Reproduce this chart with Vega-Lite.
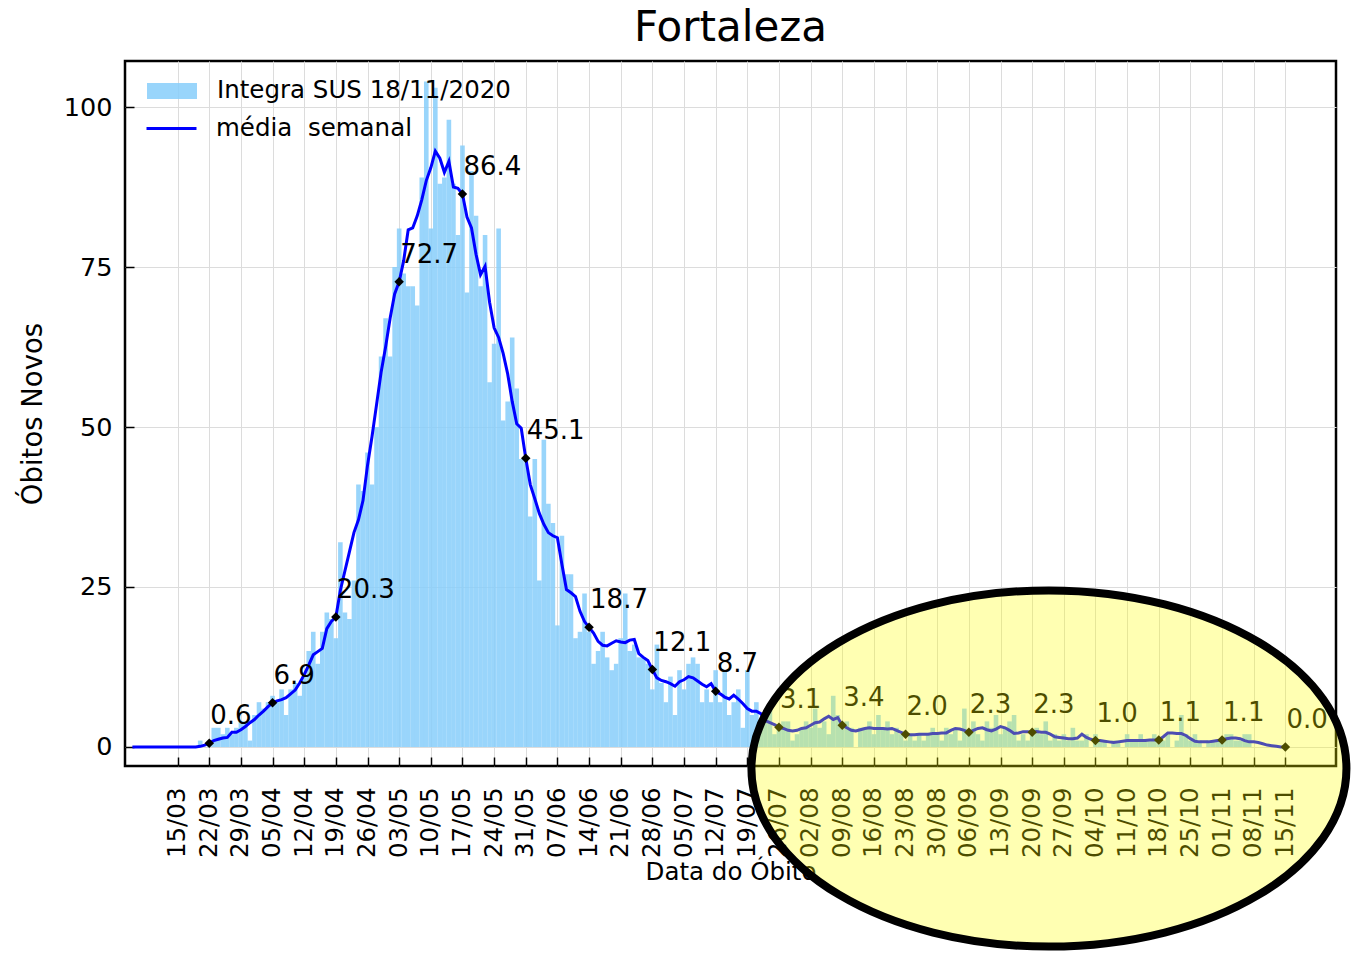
{
"$schema": "https://vega.github.io/schema/vega-lite/v6.json",
"width": 1211,
"height": 705,
"autosize": {"type": "none"},
"padding": {"left": 125, "top": 61, "right": 18, "bottom": 188},
"background": "white",
"config": {
  "font": "DejaVu Sans",
  "view": {"stroke": "black", "strokeWidth": 2.5},
  "axis": {"labelFont": "DejaVu Sans", "titleFont": "DejaVu Sans", "labelColor": "black", "titleColor": "black", "titleFontWeight": "normal", "labelFontSize": 24.5, "titleFontSize": 24.5, "domain": false, "tickColor": "black", "tickWidth": 1.5, "tickSize": -9, "gridColor": "#dcdcdc", "gridWidth": 1},
  "legend": {"layout": {"top-left": {"direction": "vertical", "margin": 6}}}
},
"title": {"text": "Fortaleza", "fontSize": 42, "fontWeight": "normal", "font": "DejaVu Sans", "color": "black", "baseline": "bottom", "offset": -31},
"datasets": {
"diario": [
{"data":"2020-03-05","obitos":0,"media":0},{"data":"2020-03-06","obitos":0,"media":0},{"data":"2020-03-07","obitos":0,"media":0},{"data":"2020-03-08","obitos":0,"media":0},{"data":"2020-03-09","obitos":0,"media":0},{"data":"2020-03-10","obitos":0,"media":0},{"data":"2020-03-11","obitos":0,"media":0},{"data":"2020-03-12","obitos":0,"media":0},{"data":"2020-03-13","obitos":0,"media":0},{"data":"2020-03-14","obitos":0,"media":0},{"data":"2020-03-15","obitos":0,"media":0},{"data":"2020-03-16","obitos":0,"media":0},{"data":"2020-03-17","obitos":0,"media":0},{"data":"2020-03-18","obitos":0,"media":0},{"data":"2020-03-19","obitos":0,"media":0},
{"data":"2020-03-20","obitos":1,"media":0.1},{"data":"2020-03-21","obitos":0,"media":0.3},{"data":"2020-03-22","obitos":1,"media":0.6},{"data":"2020-03-23","obitos":3,"media":1.0},{"data":"2020-03-24","obitos":3,"media":1.2},{"data":"2020-03-25","obitos":2,"media":1.4},{"data":"2020-03-26","obitos":3,"media":1.5},{"data":"2020-03-27","obitos":2,"media":2.3},{"data":"2020-03-28","obitos":3,"media":2.3},{"data":"2020-03-29","obitos":4,"media":2.7},{"data":"2020-03-30","obitos":4,"media":3.2},{"data":"2020-03-31","obitos":1,"media":3.8},
{"data":"2020-04-01","obitos":5,"media":4.3},{"data":"2020-04-02","obitos":7,"media":5.0},{"data":"2020-04-03","obitos":6,"media":5.6},{"data":"2020-04-04","obitos":7,"media":6.3},{"data":"2020-04-05","obitos":8,"media":6.9},{"data":"2020-04-06","obitos":7,"media":7.2},{"data":"2020-04-07","obitos":9,"media":7.4},{"data":"2020-04-08","obitos":5,"media":7.7},{"data":"2020-04-09","obitos":9,"media":8.3},{"data":"2020-04-10","obitos":10,"media":8.9},{"data":"2020-04-11","obitos":8,"media":10.0},{"data":"2020-04-12","obitos":11,"media":11.3},{"data":"2020-04-13","obitos":15,"media":12.8},{"data":"2020-04-14","obitos":18,"media":14.4},{"data":"2020-04-15","obitos":13,"media":14.9},{"data":"2020-04-16","obitos":18,"media":15.4},{"data":"2020-04-17","obitos":21,"media":18.5},{"data":"2020-04-18","obitos":20,"media":19.6},{"data":"2020-04-19","obitos":17,"media":20.3},{"data":"2020-04-20","obitos":32,"media":24.5},{"data":"2020-04-21","obitos":21,"media":27.5},{"data":"2020-04-22","obitos":20,"media":30.5},{"data":"2020-04-23","obitos":26,"media":33.5},{"data":"2020-04-24","obitos":41,"media":35.5},{"data":"2020-04-25","obitos":40,"media":38.5},{"data":"2020-04-26","obitos":46,"media":44.0},{"data":"2020-04-27","obitos":41,"media":48.5},{"data":"2020-04-28","obitos":50,"media":53.5},{"data":"2020-04-29","obitos":61,"media":58.5},{"data":"2020-04-30","obitos":67,"media":62.5},
{"data":"2020-05-01","obitos":61,"media":67.0},{"data":"2020-05-02","obitos":75,"media":70.8},{"data":"2020-05-03","obitos":81,"media":72.7},{"data":"2020-05-04","obitos":74,"media":76.0},{"data":"2020-05-05","obitos":72,"media":80.8},{"data":"2020-05-06","obitos":72,"media":81.1},{"data":"2020-05-07","obitos":69,"media":83.0},{"data":"2020-05-08","obitos":89,"media":85.5},{"data":"2020-05-09","obitos":104,"media":88.5},{"data":"2020-05-10","obitos":81,"media":90.5},{"data":"2020-05-11","obitos":103,"media":93.1},{"data":"2020-05-12","obitos":88,"media":92.0},{"data":"2020-05-13","obitos":89,"media":89.8},{"data":"2020-05-14","obitos":98,"media":91.5},{"data":"2020-05-15","obitos":88,"media":87.5},{"data":"2020-05-16","obitos":80,"media":87.3},{"data":"2020-05-17","obitos":94,"media":86.4},{"data":"2020-05-18","obitos":71,"media":82.8},{"data":"2020-05-19","obitos":90,"media":81.1},{"data":"2020-05-20","obitos":83,"media":77.0},{"data":"2020-05-21","obitos":72,"media":73.8},{"data":"2020-05-22","obitos":80,"media":75.1},{"data":"2020-05-23","obitos":57,"media":69.5},{"data":"2020-05-24","obitos":63,"media":65.5},{"data":"2020-05-25","obitos":81,"media":64.0},{"data":"2020-05-26","obitos":51,"media":61.5},{"data":"2020-05-27","obitos":54,"media":58.3},{"data":"2020-05-28","obitos":64,"media":54.0},{"data":"2020-05-29","obitos":56,"media":50.5},{"data":"2020-05-30","obitos":45,"media":49.8},{"data":"2020-05-31","obitos":45,"media":45.1},
{"data":"2020-06-01","obitos":36,"media":41.0},{"data":"2020-06-02","obitos":45,"media":38.8},{"data":"2020-06-03","obitos":26,"media":36.5},{"data":"2020-06-04","obitos":48,"media":34.8},{"data":"2020-06-05","obitos":38,"media":33.5},{"data":"2020-06-06","obitos":35,"media":33.0},{"data":"2020-06-07","obitos":19,"media":32.7},{"data":"2020-06-08","obitos":33,"media":28.5},{"data":"2020-06-09","obitos":27,"media":24.6},{"data":"2020-06-10","obitos":27,"media":24.1},{"data":"2020-06-11","obitos":17,"media":23.5},{"data":"2020-06-12","obitos":18,"media":21.2},{"data":"2020-06-13","obitos":24,"media":19.6},{"data":"2020-06-14","obitos":18,"media":18.7},{"data":"2020-06-15","obitos":13,"media":17.8},{"data":"2020-06-16","obitos":15,"media":16.5},{"data":"2020-06-17","obitos":18,"media":15.9},{"data":"2020-06-18","obitos":14,"media":15.8},{"data":"2020-06-19","obitos":12,"media":16.2},{"data":"2020-06-20","obitos":13,"media":16.6},{"data":"2020-06-21","obitos":17,"media":16.4},{"data":"2020-06-22","obitos":24,"media":16.3},{"data":"2020-06-23","obitos":15,"media":16.7},{"data":"2020-06-24","obitos":16,"media":16.8},{"data":"2020-06-25","obitos":14,"media":14.6},{"data":"2020-06-26","obitos":14,"media":14.0},{"data":"2020-06-27","obitos":13,"media":13.5},{"data":"2020-06-28","obitos":9,"media":12.1},{"data":"2020-06-29","obitos":16,"media":10.8},{"data":"2020-06-30","obitos":10,"media":10.4},
{"data":"2020-07-01","obitos":7,"media":10.2},{"data":"2020-07-02","obitos":11,"media":9.9},{"data":"2020-07-03","obitos":5,"media":9.5},{"data":"2020-07-04","obitos":12,"media":10.2},{"data":"2020-07-05","obitos":9,"media":10.5},{"data":"2020-07-06","obitos":13,"media":11.0},{"data":"2020-07-07","obitos":14,"media":10.8},{"data":"2020-07-08","obitos":13,"media":10.3},{"data":"2020-07-09","obitos":7,"media":9.8},{"data":"2020-07-10","obitos":9,"media":9.4},{"data":"2020-07-11","obitos":7,"media":9.9},{"data":"2020-07-12","obitos":12,"media":8.7},{"data":"2020-07-13","obitos":7,"media":8.3},{"data":"2020-07-14","obitos":12,"media":7.8},{"data":"2020-07-15","obitos":5,"media":7.5},{"data":"2020-07-16","obitos":7,"media":8.1},{"data":"2020-07-17","obitos":9,"media":7.5},{"data":"2020-07-18","obitos":3,"media":6.8},{"data":"2020-07-19","obitos":12,"media":6.0},{"data":"2020-07-20","obitos":5,"media":5.6},{"data":"2020-07-21","obitos":7,"media":5.6},{"data":"2020-07-22","obitos":4,"media":5.2},{"data":"2020-07-23","obitos":5,"media":4.1},{"data":"2020-07-24","obitos":6,"media":3.8},{"data":"2020-07-25","obitos":2,"media":3.5},{"data":"2020-07-26","obitos":3,"media":3.1},{"data":"2020-07-27","obitos":4,"media":2.9},{"data":"2020-07-28","obitos":4,"media":2.6},{"data":"2020-07-29","obitos":1,"media":2.5},{"data":"2020-07-30","obitos":2,"media":2.6},{"data":"2020-07-31","obitos":3,"media":2.9},
{"data":"2020-08-01","obitos":4,"media":3.0},{"data":"2020-08-02","obitos":3,"media":3.4},{"data":"2020-08-03","obitos":6,"media":3.8},{"data":"2020-08-04","obitos":3,"media":3.9},{"data":"2020-08-05","obitos":4,"media":4.4},{"data":"2020-08-06","obitos":2,"media":4.8},{"data":"2020-08-07","obitos":8,"media":4.3},{"data":"2020-08-08","obitos":5,"media":4.6},{"data":"2020-08-09","obitos":3,"media":3.4},{"data":"2020-08-10","obitos":4,"media":3.0},{"data":"2020-08-11","obitos":3,"media":2.6},{"data":"2020-08-12","obitos":0,"media":2.5},{"data":"2020-08-13","obitos":3,"media":2.7},{"data":"2020-08-14","obitos":3,"media":2.9},{"data":"2020-08-15","obitos":4,"media":3.0},{"data":"2020-08-16","obitos":2,"media":2.9},{"data":"2020-08-17","obitos":5,"media":2.9},{"data":"2020-08-18","obitos":3,"media":2.9},{"data":"2020-08-19","obitos":4,"media":2.8},{"data":"2020-08-20","obitos":2,"media":2.9},{"data":"2020-08-21","obitos":3,"media":2.6},{"data":"2020-08-22","obitos":2,"media":2.3},{"data":"2020-08-23","obitos":1,"media":2.0},{"data":"2020-08-24","obitos":2,"media":1.9},{"data":"2020-08-25","obitos":1,"media":1.9},{"data":"2020-08-26","obitos":2,"media":2.0},{"data":"2020-08-27","obitos":1,"media":2.0},{"data":"2020-08-28","obitos":2,"media":2.0},{"data":"2020-08-29","obitos":3,"media":2.1},{"data":"2020-08-30","obitos":2,"media":2.1},{"data":"2020-08-31","obitos":1,"media":2.2},
{"data":"2020-09-01","obitos":3,"media":2.2},{"data":"2020-09-02","obitos":2,"media":2.6},{"data":"2020-09-03","obitos":3,"media":2.9},{"data":"2020-09-04","obitos":1,"media":2.8},{"data":"2020-09-05","obitos":6,"media":2.6},{"data":"2020-09-06","obitos":2,"media":2.3},{"data":"2020-09-07","obitos":4,"media":2.6},{"data":"2020-09-08","obitos":2,"media":2.9},{"data":"2020-09-09","obitos":1,"media":3.0},{"data":"2020-09-10","obitos":4,"media":2.7},{"data":"2020-09-11","obitos":3,"media":2.5},{"data":"2020-09-12","obitos":5,"media":2.8},{"data":"2020-09-13","obitos":2,"media":3.2},{"data":"2020-09-14","obitos":3,"media":3.0},{"data":"2020-09-15","obitos":4,"media":2.6},{"data":"2020-09-16","obitos":5,"media":2.1},{"data":"2020-09-17","obitos":1,"media":2.2},{"data":"2020-09-18","obitos":2,"media":2.4},{"data":"2020-09-19","obitos":1,"media":2.4},{"data":"2020-09-20","obitos":2,"media":2.3},{"data":"2020-09-21","obitos":3,"media":2.4},{"data":"2020-09-22","obitos":2,"media":2.3},{"data":"2020-09-23","obitos":4,"media":2.3},{"data":"2020-09-24","obitos":1,"media":2.0},{"data":"2020-09-25","obitos":2,"media":1.6},{"data":"2020-09-26","obitos":1,"media":1.5},{"data":"2020-09-27","obitos":2,"media":1.4},{"data":"2020-09-28","obitos":1,"media":1.3},{"data":"2020-09-29","obitos":3,"media":1.3},{"data":"2020-09-30","obitos":1,"media":1.4},
{"data":"2020-10-01","obitos":1,"media":2.0},{"data":"2020-10-02","obitos":2,"media":1.5},{"data":"2020-10-03","obitos":0,"media":1.2},{"data":"2020-10-04","obitos":2,"media":1.0},{"data":"2020-10-05","obitos":1,"media":1.0},{"data":"2020-10-06","obitos":1,"media":0.9},{"data":"2020-10-07","obitos":0,"media":0.8},{"data":"2020-10-08","obitos":1,"media":0.7},{"data":"2020-10-09","obitos":1,"media":0.8},{"data":"2020-10-10","obitos":0,"media":0.9},{"data":"2020-10-11","obitos":2,"media":1.0},{"data":"2020-10-12","obitos":1,"media":1.0},{"data":"2020-10-13","obitos":1,"media":1.0},{"data":"2020-10-14","obitos":2,"media":1.0},{"data":"2020-10-15","obitos":1,"media":1.0},{"data":"2020-10-16","obitos":1,"media":1.1},{"data":"2020-10-17","obitos":2,"media":1.1},{"data":"2020-10-18","obitos":1,"media":1.1},{"data":"2020-10-19","obitos":1,"media":1.6},{"data":"2020-10-20","obitos":2,"media":2.2},{"data":"2020-10-21","obitos":0,"media":2.2},{"data":"2020-10-22","obitos":1,"media":2.1},{"data":"2020-10-23","obitos":5,"media":2.1},{"data":"2020-10-24","obitos":2,"media":1.8},{"data":"2020-10-25","obitos":1,"media":1.3},{"data":"2020-10-26","obitos":2,"media":0.9},{"data":"2020-10-27","obitos":1,"media":0.8},{"data":"2020-10-28","obitos":0,"media":0.8},{"data":"2020-10-29","obitos":1,"media":0.8},{"data":"2020-10-30","obitos":1,"media":0.9},{"data":"2020-10-31","obitos":1,"media":1.0},
{"data":"2020-11-01","obitos":1,"media":1.1},{"data":"2020-11-02","obitos":2,"media":1.3},{"data":"2020-11-03","obitos":2,"media":1.4},{"data":"2020-11-04","obitos":1,"media":1.4},{"data":"2020-11-05","obitos":1,"media":1.3},{"data":"2020-11-06","obitos":2,"media":1.0},{"data":"2020-11-07","obitos":2,"media":0.8},{"data":"2020-11-08","obitos":0,"media":0.8},{"data":"2020-11-09","obitos":0,"media":0.7},{"data":"2020-11-10","obitos":0,"media":0.5},{"data":"2020-11-11","obitos":0,"media":0.3},{"data":"2020-11-12","obitos":0,"media":0.2},{"data":"2020-11-13","obitos":0,"media":0.1},{"data":"2020-11-14","obitos":0,"media":0.0},{"data":"2020-11-15","obitos":0,"media":0.0}
],
"marcos": [
{"data":"2020-03-22","media":0.6},{"data":"2020-04-05","media":6.9},{"data":"2020-04-19","media":20.3},{"data":"2020-05-03","media":72.7},{"data":"2020-05-17","media":86.4},{"data":"2020-05-31","media":45.1},{"data":"2020-06-14","media":18.7},{"data":"2020-06-28","media":12.1},{"data":"2020-07-12","media":8.7},{"data":"2020-07-26","media":3.1},{"data":"2020-08-09","media":3.4},{"data":"2020-08-23","media":2.0},{"data":"2020-09-06","media":2.3},{"data":"2020-09-20","media":2.3},{"data":"2020-10-04","media":1.0},{"data":"2020-10-18","media":1.1},{"data":"2020-11-01","media":1.1},{"data":"2020-11-15","media":0.0}
],
"destaque": [
{"data":"2020-09-23T17:00:00Z","media":-3.36}
]
},
"layer": [
{
 "data": {"name": "diario"},
 "mark": {"type": "bar", "width": 4.6, "opacity": 0.85},
 "encoding": {
  "x": {"field": "data", "type": "temporal",
        "scale": {"type": "utc", "domain": [{"year":2020,"month":3,"date":4,"hours":11,"minutes":20,"utc":true},{"year":2020,"month":11,"date":25,"hours":2,"minutes":10,"utc":true}]},
        "axis": {"title": "Data do Óbito", "format": "%d/%m", "labelAngle": -90, "labelPadding": 30, "titlePadding": 3, "grid": true, "labelOverlap": false, "tickCount": 100,
                 "values": [{"year":2020,"month":3,"date":15,"utc":true},{"year":2020,"month":3,"date":22,"utc":true},{"year":2020,"month":3,"date":29,"utc":true},{"year":2020,"month":4,"date":5,"utc":true},{"year":2020,"month":4,"date":12,"utc":true},{"year":2020,"month":4,"date":19,"utc":true},{"year":2020,"month":4,"date":26,"utc":true},{"year":2020,"month":5,"date":3,"utc":true},{"year":2020,"month":5,"date":10,"utc":true},{"year":2020,"month":5,"date":17,"utc":true},{"year":2020,"month":5,"date":24,"utc":true},{"year":2020,"month":5,"date":31,"utc":true},{"year":2020,"month":6,"date":7,"utc":true},{"year":2020,"month":6,"date":14,"utc":true},{"year":2020,"month":6,"date":21,"utc":true},{"year":2020,"month":6,"date":28,"utc":true},{"year":2020,"month":7,"date":5,"utc":true},{"year":2020,"month":7,"date":12,"utc":true},{"year":2020,"month":7,"date":19,"utc":true},{"year":2020,"month":7,"date":26,"utc":true},{"year":2020,"month":8,"date":2,"utc":true},{"year":2020,"month":8,"date":9,"utc":true},{"year":2020,"month":8,"date":16,"utc":true},{"year":2020,"month":8,"date":23,"utc":true},{"year":2020,"month":8,"date":30,"utc":true},{"year":2020,"month":9,"date":6,"utc":true},{"year":2020,"month":9,"date":13,"utc":true},{"year":2020,"month":9,"date":20,"utc":true},{"year":2020,"month":9,"date":27,"utc":true},{"year":2020,"month":10,"date":4,"utc":true},{"year":2020,"month":10,"date":11,"utc":true},{"year":2020,"month":10,"date":18,"utc":true},{"year":2020,"month":10,"date":25,"utc":true},{"year":2020,"month":11,"date":1,"utc":true},{"year":2020,"month":11,"date":8,"utc":true},{"year":2020,"month":11,"date":15,"utc":true}]}},
  "y": {"field": "obitos", "type": "quantitative",
        "scale": {"domain": [-2.97, 107.19], "nice": false, "zero": false},
        "axis": {"title": "Óbitos Novos", "values": [0, 25, 50, 75, 100], "labelFontSize": 25.5, "titleFontSize": 27.5, "labelPadding": 22, "titlePadding": 16, "grid": true}},
  "fill": {"datum": "Integra SUS 18/11/2020", "type": "nominal",
        "scale": {"range": ["#87CEFA"]},
        "legend": {"orient": "top-left", "title": null, "offset": 12, "padding": 0, "labelFontSize": 24.5, "labelColor": "black", "labelFont": "DejaVu Sans", "labelLimit": 0,
                   "symbolSize": 1296, "symbolType": "M-0.444,-0.444H2.333V0.444H-0.444Z", "labelOffset": 44, "rowPadding": 0, "symbolStrokeWidth": 0}}
 }
},
{
 "data": {"name": "diario"},
 "mark": {"type": "line", "strokeWidth": 3},
 "encoding": {
  "x": {"field": "data", "type": "temporal"},
  "y": {"field": "media", "type": "quantitative"},
  "stroke": {"datum": "média\u00a0 semanal", "type": "nominal",
        "scale": {"range": ["#0000FF"]},
        "legend": {"orient": "top-left", "title": null, "offset": 12, "padding": 0, "labelFontSize": 24.5, "labelColor": "black", "labelFont": "DejaVu Sans", "labelLimit": 0,
                   "symbolSize": 1296, "symbolType": "M-0.555,0H2.222", "labelOffset": 40, "rowPadding": 0, "symbolStrokeWidth": 3}}
 }
},
{
 "data": {"name": "marcos"},
 "mark": {"type": "point", "shape": "diamond", "filled": true, "color": "black", "size": 90, "opacity": 1},
 "encoding": {
  "x": {"field": "data", "type": "temporal"},
  "y": {"field": "media", "type": "quantitative"}
 }
},
{
 "data": {"name": "marcos"},
 "mark": {"type": "text", "align": "left", "baseline": "alphabetic", "dx": 1, "dy": -19, "fontSize": 26, "font": "DejaVu Sans", "color": "black"},
 "encoding": {
  "x": {"field": "data", "type": "temporal"},
  "y": {"field": "media", "type": "quantitative"},
  "text": {"field": "media", "type": "quantitative", "format": ".1f"}
 }
},
{
 "data": {"name": "destaque"},
 "mark": {"type": "point", "shape": "M-1,0A1,0.5987,0,1,0,1,0A1,0.5987,0,1,0,-1,0Z", "size": 354025, "filled": true, "fill": "#ffff00", "fillOpacity": 0.3, "stroke": "black", "strokeWidth": 8, "strokeOpacity": 1, "opacity": 1},
 "encoding": {
  "x": {"field": "data", "type": "temporal"},
  "y": {"field": "media", "type": "quantitative"}
 }
}
]
}
